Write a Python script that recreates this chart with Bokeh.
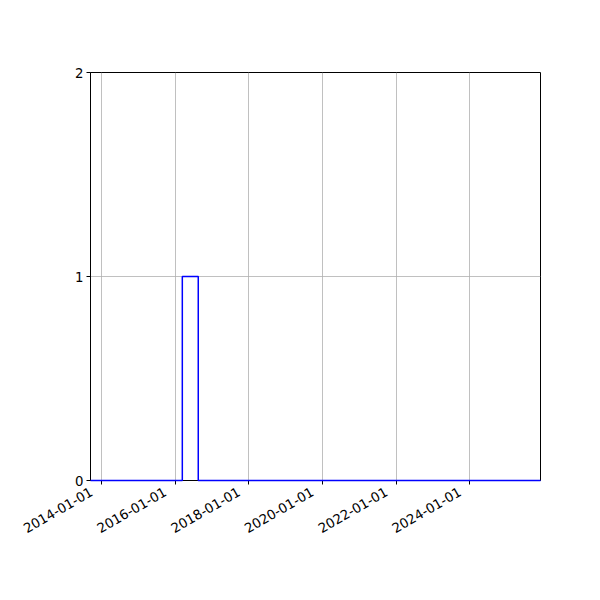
import math
from datetime import datetime

import bokeh.models
import bokeh.plotting
from bokeh.embed import file_html
from bokeh.resources import INLINE

# step data (value holds until the next date)
dates = ["2013-09-15", "2016-03-13", "2016-08-18", "2025-12-01"]
values = [0, 1, 0, 0]

x_start = "2013-09-15"
x_end = "2025-12-01"
tick_dates = ["2014-01-01", "2016-01-01", "2018-01-01", "2020-01-01", "2022-01-01", "2024-01-01"]
y_ticks = [0, 1, 2]


def to_dt(s):
    return datetime.strptime(s, "%Y-%m-%d")


def to_ms(s):
    return (to_dt(s) - datetime(1970, 1, 1)).total_seconds() * 1000


PLOT_W = 450
LABEL_SHIFT_PX = 10  # matplotlib right-aligns the rotated box, bokeh pivots on the corner

span = to_dt(x_end) - to_dt(x_start)
shift = span * LABEL_SHIFT_PX / PLOT_W

source = bokeh.models.ColumnDataSource(data=dict(x=[to_dt(d) for d in dates], y=values))

p = bokeh.plotting.figure(
    width=600,
    height=600,
    x_axis_type="datetime",
    x_range=(to_dt(x_start), to_dt(x_end)),
    y_range=(0, 2),
    output_backend="svg",
    toolbar_location=None,
    min_border_left=90,
    min_border_right=60,
    min_border_top=72,
    min_border_bottom=120,
)
p.extra_x_ranges = {"labels": bokeh.models.Range1d(to_dt(x_start) + shift, to_dt(x_end) + shift)}

r = p.step("x", "y", source=source, mode="after", line_color="#0000ff", line_width=1.5)
r.level = "overlay"

fmt = "%Y-%m-%d"
date_fmt = bokeh.models.DatetimeTickFormatter(
    years=fmt, months=fmt, days=fmt, hours=fmt, minutes=fmt, seconds=fmt,
    milliseconds=fmt, microseconds=fmt, hourmin=fmt, minsec=fmt,
)
x_ticker = bokeh.models.FixedTicker(ticks=[to_ms(d) for d in tick_dates])

p.xaxis.ticker = x_ticker
p.yaxis.ticker = bokeh.models.FixedTicker(ticks=y_ticks)

for ax in (p.xaxis, p.yaxis):
    ax.major_label_text_font = "DejaVu Sans"
    ax.major_label_text_font_size = "13.3px"
    ax.major_label_text_color = "black"
    ax.axis_line_color = "black"
    ax.major_tick_line_color = "black"
    ax.major_tick_out = 4
    ax.major_tick_in = 0
    ax.minor_tick_line_color = None
    ax.major_label_standoff = 3

# main x axis keeps the line and ticks, the labels go on a shifted axis below it
p.xaxis.major_label_overrides = {to_ms(d): "" for d in tick_dates}
p.xaxis.major_label_standoff = 0

lab_axis = bokeh.models.DatetimeAxis(
    x_range_name="labels",
    ticker=x_ticker,
    formatter=date_fmt,
    axis_line_color=None,
    major_tick_line_color=None,
    minor_tick_line_color=None,
    major_tick_in=0,
    major_tick_out=0,
    major_label_standoff=6,
    major_label_orientation=math.pi / 6,
    major_label_text_font="DejaVu Sans",
    major_label_text_font_size="13.3px",
    major_label_text_color="black",
)
p.add_layout(lab_axis, "below")

p.grid.grid_line_color = "#b0b0b0"
p.grid.grid_line_width = 0.8
p.outline_line_color = "black"
p.outline_line_alpha = 1
p.background_fill_color = "white"
p.border_fill_color = "white"

open("out.html", "w").write(file_html(p, INLINE))
